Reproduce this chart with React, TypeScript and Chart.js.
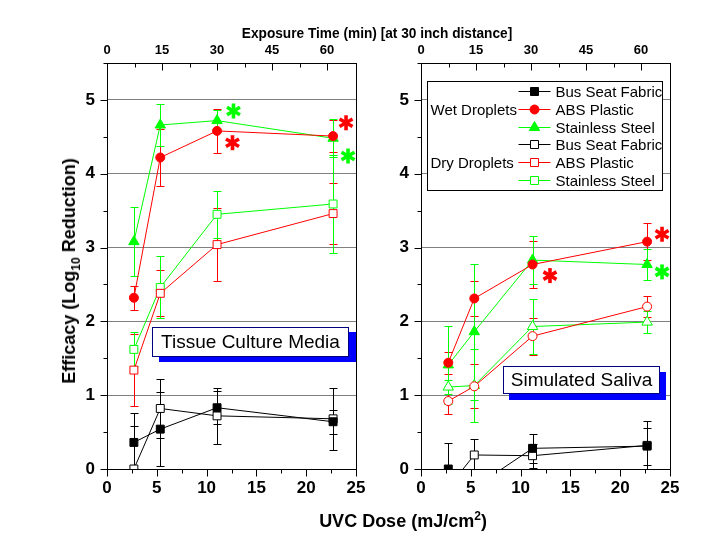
import React, { useEffect, useLayoutEffect, useRef, useState } from 'react';
import { Chart, registerables } from 'chart.js';

Chart.register(...registerables);

// ---------------- data ----------------
const doseLeft = [2.7, 5.35, 11.05, 22.7];
const doseRight = [2.74, 5.35, 11.2, 22.7];

const seriesLabels = ['Bus Seat Fabric', 'ABS Plastic', 'Stainless Steel'];
const groupLabels = ['Wet Droplets', 'Dry Droplets'];

// Tissue Culture Media (left panel)
const tcmWetBus = [0.36, 0.54, 0.83, 0.64];
const tcmWetBusErr = [0.4, 0.5, 0.22, 0.16];
const tcmWetAbs = [2.32, 4.22, 4.58, 4.51];
const tcmWetAbsErr = [0.16, 0.39, 0.3, 0.22];
const tcmWetSs = [3.08, 4.66, 4.72, 4.48];
const tcmWetSsErr = [0.47, 0.29, 0.15, 0.26];
const tcmDryBus = [0.0, 0.82, 0.72, 0.68];
const tcmDryBusErr = [0.585, 0.4, 0.38, 0.42];
const tcmDryAbs = [1.34, 2.38, 3.04, 3.46];
const tcmDryAbsErr = [0.49, 0.31, 0.49, 0.41];
const tcmDrySs = [1.62, 2.46, 3.45, 3.59];
const tcmDrySsErr = [0.23, 0.42, 0.32, 0.67];

// Simulated Saliva (right panel)
const salWetBus = [0.0, -0.25, 0.28, 0.31];
const salWetBusErr = [0.35, 0.25, 0.2, 0.25];
const salWetAbs = [1.44, 2.31, 2.77, 3.08];
const salWetAbsErr = [0.15, 0.24, 0.32, 0.25];
const salWetSs = [1.41, 1.86, 2.83, 2.77];
const salWetSsErr = [0.53, 0.92, 0.33, 0.21];
const salDryBus = [-0.25, 0.19, 0.18, 0.32];
const salDryBusErr = [0.2, 0.21, 0.16, 0.33];
const salDryAbs = [0.92, 1.12, 1.8, 2.2];
const salDryAbsErr = [0.17, 0.3, 0.25, 0.14];
const salDrySs = [1.11, 1.13, 1.93, 1.99];
const salDrySsErr = [0.1, 0.5, 0.37, 0.15];

// significance asterisks (series index: 1 = ABS, 2 = Stainless)
const tcmStarX = [12.7, 12.6, 24.0, 24.2];
const tcmStarY = [4.85, 4.42, 4.69, 4.24];
const tcmStarSeries = [2, 1, 1, 2];
const salStarX = [12.95, 24.2, 24.2];
const salStarY = [2.62, 3.18, 2.67];
const salStarSeries = [1, 1, 2];

// axes
const doseMin = 0;
const doseMax = 25;
const doseStep = 2.5;
const doseLabels = [0, 5, 10, 15, 20, 25];
const minutesMax = 67.9; // exposure minutes matching 25 mJ/cm2
const minutesStep = 7.5;
const minuteLabels = [0, 15, 30, 45, 60];
const effMin = 0;
const effMax = 5.5;
const effStep = 0.5;
const effLabels = [0, 1, 2, 3, 4, 5];

// ---------------- styles ----------------
const SERIES_COLORS = ['#000000', '#FF0000', '#00FF00'];
const SANS = "'Liberation Sans', Arial, sans-serif";

const near = (v: number, list: number[]) => list.some((l) => Math.abs(l - v) < 1e-6);
const isMult = (v: number, m: number) => Math.abs(v / m - Math.round(v / m)) < 1e-6;

function markerPath(ctx: CanvasRenderingContext2D, style: string, x: number, y: number) {
  ctx.beginPath();
  if (style === 'rect') {
    ctx.rect(x - 4, y - 4, 8, 8);
  } else if (style === 'circle') {
    ctx.arc(x, y, 4.5, 0, Math.PI * 2);
  } else {
    const r = 6;
    ctx.moveTo(x, y - r);
    ctx.lineTo(x + r * 0.866, y + r * 0.5);
    ctx.lineTo(x - r * 0.866, y + r * 0.5);
    ctx.closePath();
  }
}

function drawAsterisk(ctx: CanvasRenderingContext2D, x: number, y: number, color: string) {
  ctx.save();
  ctx.lineCap = 'butt';
  ctx.strokeStyle = color;
  ctx.lineWidth = 3.6;
  for (let k = 0; k < 3; k++) {
    const a = Math.PI / 2 + (k * Math.PI) / 3;
    const dx = Math.cos(a) * 7.5;
    const dy = Math.sin(a) * 7.5;
    ctx.beginPath();
    ctx.moveTo(x - dx, y - dy);
    ctx.lineTo(x + dx, y + dy);
    ctx.stroke();
  }
  ctx.restore();
}

const decorPlugin = {
  id: 'decor',
  beforeDatasetsDraw(chart: any) {
    const ctx = chart.ctx as CanvasRenderingContext2D;
    const a = chart.chartArea;
    const xs = chart.scales.x;
    const ys = chart.scales.y;
    ctx.save();
    ctx.beginPath();
    ctx.rect(a.left, a.top, a.right - a.left, a.bottom - a.top);
    ctx.clip();
    ctx.lineWidth = 1;
    chart.data.datasets.forEach((ds: any) => {
      if (!ds.errors) return;
      ctx.strokeStyle = ds.borderColor;
      ds.data.forEach((p: any, j: number) => {
        const e = ds.errors[j];
        const px = Math.round(xs.getPixelForValue(p.x)) + 0.5;
        const yt = Math.round(ys.getPixelForValue(p.y + e)) + 0.5;
        const yb = Math.round(ys.getPixelForValue(p.y - e)) + 0.5;
        ctx.beginPath();
        ctx.moveTo(px, yt);
        ctx.lineTo(px, yb);
        ctx.moveTo(px - 4, yt);
        ctx.lineTo(px + 4, yt);
        ctx.moveTo(px - 4, yb);
        ctx.lineTo(px + 4, yb);
        ctx.stroke();
      });
    });
    ctx.restore();
  },
  afterDatasetsDraw(chart: any, _args: any, opts: any) {
    const ctx = chart.ctx as CanvasRenderingContext2D;
    const xs = chart.scales.x;
    const ys = chart.scales.y;
    (opts.starX || []).forEach((sx: number, i: number) => {
      const s = opts.starSeries[i];
      drawAsterisk(ctx, xs.getPixelForValue(sx), ys.getPixelForValue(opts.starY[i]), SERIES_COLORS[s]);
    });
  },
  afterDraw(chart: any, _args: any, opts: any) {
    const ctx = chart.ctx as CanvasRenderingContext2D;
    const a = chart.chartArea;
    const L = Math.round(a.left) + 0.5;
    const R = Math.round(a.right) + 0.5;
    const T = Math.round(a.top) + 0.5;
    const B = Math.round(a.bottom) + 0.5;
    ctx.save();
    ctx.strokeStyle = '#000';
    ctx.lineWidth = 1;
    ctx.beginPath();
    chart.scales.x.ticks.forEach((t: any) => {
      if (!isMult(t.value, doseStep)) return;
      const px = Math.round(chart.scales.x.getPixelForValue(t.value)) + 0.5;
      const len = isMult(t.value, 5) ? 7 : 4;
      ctx.moveTo(px, B);
      ctx.lineTo(px, B + len);
    });
    chart.scales.x2.ticks.forEach((t: any) => {
      if (!isMult(t.value, minutesStep)) return;
      const px = Math.round(chart.scales.x2.getPixelForValue(t.value)) + 0.5;
      const len = isMult(t.value, 15) ? 7 : 4;
      ctx.moveTo(px, T);
      ctx.lineTo(px, T + len);
    });
    chart.scales.y.ticks.forEach((t: any) => {
      if (!isMult(t.value, effStep)) return;
      const py = Math.round(chart.scales.y.getPixelForValue(t.value)) + 0.5;
      const len = isMult(t.value, 1) ? 7 : 4;
      ctx.moveTo(L, py);
      ctx.lineTo(L - len, py);
    });
    ctx.stroke();
    ctx.strokeRect(L, T, R - L, B - T);
    ctx.restore();

    if (opts.legend) {
      const bx = Math.round(a.left) + 6.5;
      const by = Math.round(a.top) + 18.5;
      const bw = 235;
      const bh = 109;
      ctx.save();
      ctx.fillStyle = '#fff';
      ctx.fillRect(bx, by, bw, bh);
      ctx.strokeStyle = '#000';
      ctx.lineWidth = 1;
      ctx.strokeRect(bx, by, bw, bh);
      ctx.font = `15px ${SANS}`;
      ctx.textBaseline = 'middle';
      const styles = ['rect', 'circle', 'triangle'];
      groupLabels.forEach((g, gi) => {
        seriesLabels.forEach((s, si) => {
          const row = gi * 3 + si;
          const y = Math.round(by + 9.7 + row * 17.7) + 0.5;
          const color = SERIES_COLORS[si];
          ctx.strokeStyle = color;
          ctx.beginPath();
          ctx.moveTo(bx + 91, y);
          ctx.lineTo(bx + 123, y);
          ctx.stroke();
          const filled = gi === 0;
          markerPath(ctx, filled ? styles[si] : 'rect', bx + 107, y);
          ctx.fillStyle = filled ? color : '#fff';
          ctx.fill();
          ctx.stroke();
          ctx.fillStyle = '#000';
          ctx.textAlign = 'left';
          ctx.fillText(s, bx + 128, y + 1);
          if (si === 1) ctx.fillText(g, bx + 3, y + 1);
        });
      });
      ctx.restore();
    }
  },
};

function makeDataset(
  label: string,
  xs: number[],
  ys: number[],
  errs: number[],
  si: number,
  style: string,
  filled: boolean
) {
  const color = SERIES_COLORS[si];
  const radius = style === 'rect' ? 5.6 : style === 'circle' ? 4.5 : 6;
  return {
    label,
    data: xs.map((x, i) => ({ x, y: ys[i] })),
    errors: errs,
    borderColor: color,
    backgroundColor: filled ? color : '#ffffff',
    borderWidth: 1,
    pointStyle: style,
    pointRadius: radius,
    pointHoverRadius: radius,
    pointBorderWidth: 1,
    pointBackgroundColor: filled ? color : '#ffffff',
    pointBorderColor: color,
    tension: 0,
    fill: false,
  };
}

function makeConfig(panel: 'tcm' | 'sal', yWidth: number, rightPad: number): any {
  const xs = panel === 'tcm' ? doseLeft : doseRight;
  const datasets =
    panel === 'tcm'
      ? [
          makeDataset('Wet ' + seriesLabels[0], xs, tcmWetBus, tcmWetBusErr, 0, 'rect', true),
          makeDataset('Wet ' + seriesLabels[1], xs, tcmWetAbs, tcmWetAbsErr, 1, 'circle', true),
          makeDataset('Wet ' + seriesLabels[2], xs, tcmWetSs, tcmWetSsErr, 2, 'triangle', true),
          makeDataset('Dry ' + seriesLabels[0], xs, tcmDryBus, tcmDryBusErr, 0, 'rect', false),
          makeDataset('Dry ' + seriesLabels[1], xs, tcmDryAbs, tcmDryAbsErr, 1, 'rect', false),
          makeDataset('Dry ' + seriesLabels[2], xs, tcmDrySs, tcmDrySsErr, 2, 'rect', false),
        ]
      : [
          makeDataset('Wet ' + seriesLabels[0], xs, salWetBus, salWetBusErr, 0, 'rect', true),
          makeDataset('Wet ' + seriesLabels[1], xs, salWetAbs, salWetAbsErr, 1, 'circle', true),
          makeDataset('Wet ' + seriesLabels[2], xs, salWetSs, salWetSsErr, 2, 'triangle', true),
          makeDataset('Dry ' + seriesLabels[0], xs, salDryBus, salDryBusErr, 0, 'rect', false),
          makeDataset('Dry ' + seriesLabels[1], xs, salDryAbs, salDryAbsErr, 1, 'circle', false),
          makeDataset('Dry ' + seriesLabels[2], xs, salDrySs, salDrySsErr, 2, 'triangle', false),
        ];
  const tickFont = { family: SANS, size: 17, weight: 'bold' as const };
  return {
    type: 'line',
    data: { datasets },
    options: {
      animation: false,
      responsive: false,
      devicePixelRatio: 1,
      events: [],
      layout: { padding: { left: 0, right: rightPad, top: 0, bottom: 0 } },
      plugins: {
        legend: { display: false },
        tooltip: { enabled: false },
        decor: {
          legend: panel === 'sal',
          starX: panel === 'tcm' ? tcmStarX : salStarX,
          starY: panel === 'tcm' ? tcmStarY : salStarY,
          starSeries: panel === 'tcm' ? tcmStarSeries : salStarSeries,
        },
      },
      scales: {
        x: {
          type: 'linear',
          position: 'bottom',
          min: doseMin,
          max: doseMax,
          afterFit: (s: any) => {
            s.height = 78;
          },
          grid: { drawOnChartArea: false, drawTicks: false },
          border: { display: false },
          ticks: {
            stepSize: doseStep,
            autoSkip: false,
            maxRotation: 0,
            padding: 9,
            color: '#000',
            font: tickFont,
            callback: (v: number) => (near(v, doseLabels) ? String(v) : ''),
          },
        },
        x2: {
          type: 'linear',
          position: 'top',
          min: 0,
          max: minutesMax,
          afterFit: (s: any) => {
            s.height = 63;
          },
          grid: { drawOnChartArea: false, drawTicks: false },
          border: { display: false },
          ticks: {
            stepSize: minutesStep,
            autoSkip: false,
            maxRotation: 0,
            padding: 5,
            color: '#000',
            font: { family: SANS, size: 13, weight: 'bold' },
            callback: (v: number) => (near(v, minuteLabels) ? String(v) : ''),
          },
        },
        y: {
          type: 'linear',
          position: 'left',
          min: effMin,
          max: effMax,
          afterFit: (s: any) => {
            s.width = yWidth;
          },
          grid: {
            drawTicks: false,
            lineWidth: 1,
            color: (c: any) =>
              c.tick && isMult(c.tick.value, 1) && c.tick.value > 0.5 && c.tick.value < 5.25
                ? '#808080'
                : 'rgba(0,0,0,0)',
          },
          border: { display: false },
          ticks: {
            stepSize: effStep,
            autoSkip: false,
            padding: 12,
            color: '#000',
            font: tickFont,
            callback: (v: number) => (near(v, effLabels) ? String(v) : ''),
          },
        },
      },
    },
    plugins: [decorPlugin],
  };
}

function Panel({ left, width, panel, yWidth, rightPad }: any) {
  const ref = useRef<HTMLCanvasElement>(null);
  useEffect(() => {
    const chart = new Chart(ref.current as HTMLCanvasElement, makeConfig(panel, yWidth, rightPad));
    return () => chart.destroy();
  }, []);
  return (
    <canvas
      ref={ref}
      width={width}
      height={547}
      style={{ position: 'absolute', left, top: 0, width, height: 547 }}
    />
  );
}

// text squeezed horizontally to a target width (condensed look)
function FitText({ cx, top, width, style, children }: any) {
  const ref = useRef<HTMLSpanElement>(null);
  const [k, setK] = useState(1);
  useLayoutEffect(() => {
    if (ref.current) {
      const w = ref.current.offsetWidth;
      if (w > 0) setK(width / w);
    }
  }, []);
  return (
    <span
      ref={ref}
      style={{
        position: 'absolute',
        left: cx,
        top,
        transform: `translateX(-50%) scaleX(${k})`,
        whiteSpace: 'nowrap',
        ...style,
      }}
    >
      {children}
    </span>
  );
}

const boxStyle: React.CSSProperties = {
  position: 'absolute',
  boxSizing: 'border-box',
  background: '#fff',
  border: '1px solid #000080',
  fontFamily: SANS,
  fontSize: 19,
  color: '#000',
  textAlign: 'center',
  whiteSpace: 'nowrap',
};

export default function App() {
  return (
    <div style={{ position: 'absolute', left: 0, top: 0, width: 715, height: 547, background: '#fff', overflow: 'hidden' }}>
      <Panel left={0} width={380} panel="tcm" yWidth={107} rightPad={24} />
      <Panel left={380} width={335} panel="sal" yWidth={41} rightPad={45} />
      <FitText
        cx={377}
        top={24}
        width={270}
        style={{ fontFamily: SANS, fontWeight: 'bold', fontSize: 15, lineHeight: '18px', color: '#000' }}
      >
        Exposure Time (min) [at 30 inch distance]
      </FitText>
      <div
        style={{
          position: 'absolute',
          left: 403,
          top: 510,
          transform: 'translateX(-50%)',
          fontFamily: SANS,
          fontWeight: 'bold',
          fontSize: 18,
          lineHeight: '22px',
          whiteSpace: 'nowrap',
          color: '#000',
        }}
      >
        UVC Dose (mJ/cm<sup style={{ fontSize: 12, lineHeight: 0 }}>2</sup>)
      </div>
      <div
        style={{
          position: 'absolute',
          left: 69,
          top: 271,
          transform: 'translate(-50%, -50%) rotate(-90deg)',
          fontFamily: SANS,
          fontWeight: 'bold',
          fontSize: 18,
          lineHeight: '22px',
          whiteSpace: 'nowrap',
          color: '#000',
        }}
      >
        Efficacy (Log<sub style={{ fontSize: 12, lineHeight: 0 }}>10</sub> Reduction)
      </div>
      <div style={{ ...boxStyle, left: 152, top: 327, width: 197, height: 30, lineHeight: '28px', boxShadow: '7px 5px 0 #0000FF' }}>
        Tissue Culture Media
      </div>
      <div style={{ ...boxStyle, left: 503, top: 366, width: 157, height: 28, lineHeight: '26px', boxShadow: '6px 6px 0 #0000FF' }}>
        Simulated Saliva
      </div>
    </div>
  );
}
